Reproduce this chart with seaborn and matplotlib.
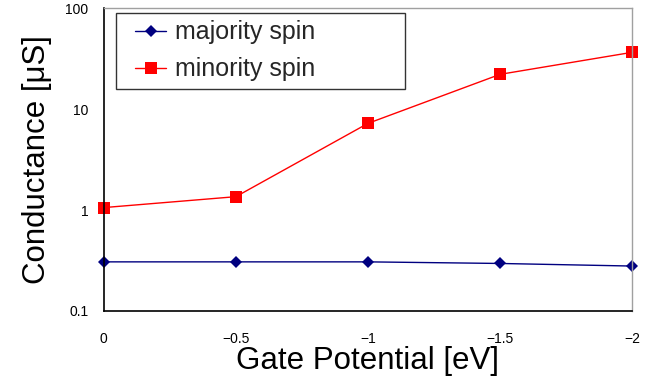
import numpy as np
import matplotlib
matplotlib.use("Agg")
import matplotlib.pyplot as plt
import seaborn as sns
import pandas as pd
from matplotlib.lines import Line2D
from matplotlib.legend_handler import HandlerLine2D
from matplotlib.ticker import LogLocator, FixedLocator, FuncFormatter

sns.set_theme(context='paper', style='white')
plt.rcParams['font.family'] = ['Liberation Sans', 'DejaVu Sans']

gate = [0, -0.5, -1, -1.5, -2]
majority = [0.307, 0.307, 0.307, 0.296, 0.279]
minority = [1.06, 1.36, 7.25, 22.2, 36.7]
series = ["majority spin", "minority spin"]
xticks = [0, -0.5, -1, -1.5, -2]
yticks = [0.1, 1, 10, 100]

df = pd.concat([
	pd.DataFrame({"gate": gate, "G": majority, "spin": series[0]}),
	pd.DataFrame({"gate": gate, "G": minority, "spin": series[1]}),
], ignore_index=True)

fig = plt.figure(figsize=(6.53, 3.83), dpi=100)
ax = fig.add_axes([0.159, 0.188, 0.809, 0.790])
sns.lineplot(data=df, x="gate", y="G", hue="spin", style="spin",
	palette={series[0]: "#000080", series[1]: "#ff0000"},
	markers={series[0]: "D", series[1]: "s"},
	dashes=False, markersize=8, linewidth=1, markeredgewidth=0, ax=ax)
for line in ax.get_lines():
	line.set_clip_on(False)
	if line.get_color() == "#000080":
		line.set_markersize(6.5)

ax.set_yscale("log")
ax.set(xlim=(0, -2), ylim=(0.1, 100))
ax.xaxis.set_major_locator(FixedLocator(xticks))
ax.xaxis.set_major_formatter(FuncFormatter(lambda v, p: ("%g" % v).replace("-", "\u2212")))
ax.yaxis.set_major_locator(FixedLocator(yticks))
ax.yaxis.set_major_formatter(FuncFormatter(lambda v, p: "%g" % v))
ax.yaxis.set_minor_locator(LogLocator(base=10, subs=np.arange(2, 10)))
ax.tick_params(axis='both', which='both', direction='in', labelsize=10, colors='black')
ax.tick_params(axis='y', which='major', length=6, pad=11)
ax.tick_params(axis='y', which='minor', length=3)
ax.tick_params(axis='x', which='major', length=5, pad=15)
ax.tick_params(axis='x', which='minor', length=0)

for s in ["left", "bottom"]:
	ax.spines[s].set_color("black")
	ax.spines[s].set_linewidth(1.2)
for s in ["top", "right"]:
	ax.spines[s].set_color("#a0a0a0")
	ax.spines[s].set_linewidth(1)

ax.set_xlabel("Gate Potential [eV]", fontsize=22.5, labelpad=0, color="black")
ax.set_ylabel("Conductance [\u03bcS]", fontsize=22.5, labelpad=10, color="black")

handles, labels = ax.get_legend_handles_labels()
leg = ax.legend(handles, labels, loc="upper left", bbox_to_anchor=(0.0227, 0, 0.547, 0.985),
	mode="expand", borderaxespad=0, fontsize=18, frameon=True, fancybox=False,
	edgecolor="black", borderpad=0.3, handlelength=1.72, handletextpad=0.35,
	labelspacing=0.52, handler_map={Line2D: HandlerLine2D(xpad=0.48)})
leg.get_frame().set_linewidth(1)

fig.savefig("out.png", dpi=100)
